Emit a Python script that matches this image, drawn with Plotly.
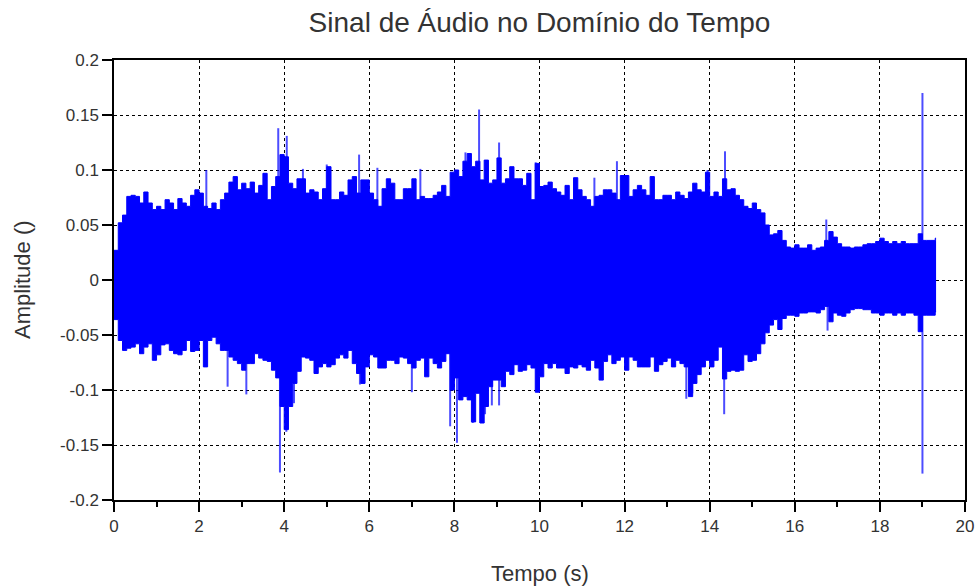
import plotly.graph_objects as go

# ---- data (envelope per 0.1 s bin, plus isolated peaks) ----
bin_start = 0.0
bin_step = 0.1

upper_env = [
    0.027, 0.052, 0.059, 0.076, 0.077, 0.076, 0.070, 0.080, 0.070, 0.064,
    0.067, 0.064, 0.073, 0.070, 0.064, 0.074, 0.070, 0.067, 0.077, 0.082,
    0.079, 0.067, 0.065, 0.070, 0.064, 0.073, 0.079, 0.089, 0.094, 0.082,
    0.088, 0.083, 0.089, 0.079, 0.086, 0.097, 0.073, 0.085, 0.094, 0.114,
    0.112, 0.088, 0.083, 0.092, 0.092, 0.079, 0.082, 0.080, 0.073, 0.083,
    0.103, 0.073, 0.073, 0.080, 0.077, 0.091, 0.094, 0.079, 0.091, 0.091,
    0.079, 0.073, 0.067, 0.083, 0.092, 0.088, 0.073, 0.073, 0.083, 0.083,
    0.092, 0.073, 0.076, 0.074, 0.074, 0.077, 0.080, 0.086, 0.076, 0.098,
    0.100, 0.094, 0.108, 0.115, 0.103, 0.108, 0.091, 0.109, 0.088, 0.091,
    0.111, 0.088, 0.092, 0.103, 0.092, 0.092, 0.086, 0.097, 0.073, 0.106,
    0.085, 0.086, 0.089, 0.083, 0.080, 0.077, 0.086, 0.073, 0.093, 0.082,
    0.076, 0.073, 0.067, 0.076, 0.077, 0.082, 0.082, 0.079, 0.073, 0.095,
    0.095, 0.076, 0.082, 0.086, 0.082, 0.077, 0.094, 0.073, 0.073, 0.077,
    0.077, 0.073, 0.080, 0.077, 0.074, 0.080, 0.088, 0.082, 0.080, 0.098,
    0.076, 0.080, 0.076, 0.092, 0.082, 0.083, 0.077, 0.073, 0.067, 0.065,
    0.070, 0.064, 0.061, 0.050, 0.041, 0.042, 0.045, 0.036, 0.030, 0.029,
    0.032, 0.029, 0.029, 0.032, 0.027, 0.029, 0.030, 0.036, 0.044, 0.039,
    0.033, 0.030, 0.030, 0.029, 0.030, 0.030, 0.032, 0.033, 0.033, 0.035,
    0.038, 0.035, 0.033, 0.035, 0.033, 0.035, 0.033, 0.033, 0.033, 0.042,
    0.036, 0.036, 0.036, 0.038,
]

lower_env = [
    -0.036, -0.055, -0.064, -0.062, -0.061, -0.058, -0.067, -0.061, -0.058, -0.073,
    -0.068, -0.059, -0.058, -0.064, -0.067, -0.068, -0.064, -0.055, -0.065, -0.064,
    -0.055, -0.079, -0.055, -0.052, -0.058, -0.064, -0.064, -0.070, -0.073, -0.076,
    -0.082, -0.076, -0.076, -0.067, -0.071, -0.073, -0.074, -0.082, -0.089, -0.115,
    -0.136, -0.115, -0.094, -0.083, -0.070, -0.071, -0.073, -0.085, -0.079, -0.076,
    -0.079, -0.077, -0.071, -0.068, -0.071, -0.064, -0.076, -0.085, -0.094, -0.079,
    -0.068, -0.070, -0.080, -0.080, -0.073, -0.073, -0.076, -0.070, -0.071, -0.076,
    -0.080, -0.073, -0.071, -0.088, -0.071, -0.076, -0.080, -0.074, -0.067, -0.100,
    -0.089, -0.109, -0.106, -0.109, -0.129, -0.103, -0.130, -0.115, -0.097, -0.091,
    -0.091, -0.097, -0.083, -0.086, -0.077, -0.083, -0.082, -0.077, -0.080, -0.102,
    -0.088, -0.076, -0.080, -0.076, -0.080, -0.080, -0.085, -0.079, -0.080, -0.077,
    -0.079, -0.082, -0.073, -0.080, -0.091, -0.074, -0.068, -0.076, -0.073, -0.070,
    -0.082, -0.070, -0.073, -0.079, -0.079, -0.079, -0.070, -0.083, -0.077, -0.074,
    -0.071, -0.079, -0.073, -0.076, -0.079, -0.106, -0.094, -0.086, -0.079, -0.073,
    -0.079, -0.073, -0.061, -0.090, -0.083, -0.082, -0.083, -0.082, -0.068, -0.074,
    -0.073, -0.067, -0.058, -0.048, -0.041, -0.036, -0.045, -0.035, -0.032, -0.032,
    -0.033, -0.030, -0.030, -0.029, -0.029, -0.030, -0.027, -0.024, -0.038, -0.030,
    -0.032, -0.033, -0.030, -0.027, -0.026, -0.026, -0.027, -0.027, -0.030, -0.030,
    -0.032, -0.030, -0.030, -0.032, -0.030, -0.032, -0.030, -0.030, -0.032, -0.047,
    -0.032, -0.032, -0.032, -0.029,
]

peak_up_t = [2.17, 3.86, 4.06, 4.44, 5.0, 5.76, 6.19, 7.2, 8.26, 8.58, 9.05, 9.91,
             11.29, 11.82, 13.95, 14.36, 16.74, 19.0]
peak_up_v = [0.100, 0.138, 0.131, 0.101, 0.105, 0.114, 0.102, 0.101, 0.116, 0.155, 0.125, 0.107,
             0.093, 0.108, 0.100, 0.117, 0.055, 0.170]
peak_dn_t = [2.67, 3.11, 3.90, 4.05, 4.23, 5.78, 7.0, 7.9, 8.06, 8.43, 8.61, 8.72, 8.88,
             9.05, 9.95, 13.45, 13.59, 14.34, 16.77, 19.0]
peak_dn_v = [-0.097, -0.104, -0.175, -0.138, -0.112, -0.095, -0.102, -0.133, -0.148, -0.130,
             -0.130, -0.122, -0.114, -0.114, -0.102, -0.108, -0.103, -0.122, -0.046, -0.176]

x_tickvals = [0, 2, 4, 6, 8, 10, 12, 14, 16, 18, 20]
x_ticktext = ["0", "2", "4", "6", "8", "10", "12", "14", "16", "18", "20"]
y_tickvals = [0.2, 0.15, 0.1, 0.05, 0, -0.05, -0.1, -0.15, -0.2]
y_ticktext = ["0.2", "0.15", "0.1", "0.05", "0", "-0.05", "-0.1", "-0.15", "-0.2"]

title_text = "Sinal de Áudio no Domínio do Tempo"
x_label = "Tempo (s)"
y_label = "Amplitude ()"

# ---- build ----
times = [round(bin_start + i * bin_step, 3) for i in range(len(upper_env))]
times_ext = times + [times[-1] + 0.02]
up_ext = upper_env + [upper_env[-1]]
lo_ext = lower_env + [lower_env[-1]]

BLUE = "#0000ff"
FONT = "Liberation Sans, Arial, sans-serif"
TXT = "#333333"

W, H = 977, 587
ML, MR, MT, MB = 114, 12, 60, 87
PW, PH = W - ML - MR, H - MT - MB

fig = go.Figure()
fig.add_trace(go.Scatter(x=times_ext, y=lo_ext, mode="lines", line=dict(color=BLUE, width=1, shape="hv"),
                         hoverinfo="skip", showlegend=False))
fig.add_trace(go.Scatter(x=times_ext, y=up_ext, mode="lines", line=dict(color=BLUE, width=1, shape="hv"),
                         fill="tonexty", fillcolor=BLUE, hoverinfo="skip", showlegend=False))

px, py = [], []
for t, v in zip(peak_up_t + peak_dn_t, peak_up_v + peak_dn_v):
    px += [t, t, None]
    py += [0, v, None]
fig.add_trace(go.Scatter(x=px, y=py, mode="lines", line=dict(color="rgba(0,0,255,0.7)", width=2),
                         hoverinfo="skip", showlegend=False))

fig.update_layout(
    width=W, height=H,
    margin=dict(l=ML, r=MR, t=MT, b=MB, autoexpand=False),
    paper_bgcolor="white", plot_bgcolor="white",
    font=dict(family=FONT, color=TXT, size=17),
    title=dict(text=title_text, x=0.5, xref="paper", y=1 - 22 / H, yref="container",
               xanchor="center", yanchor="middle", font=dict(size=28, color=TXT, family=FONT)),
    annotations=[
        dict(text=x_label, xref="paper", yref="paper", x=0.5, y=-(573 - (MT + PH)) / PH,
             xanchor="center", yanchor="middle", showarrow=False, font=dict(size=22, color=TXT)),
        dict(text=y_label, xref="paper", yref="paper", x=(22 - ML) / PW, y=0.5, textangle=-90,
             xanchor="center", yanchor="middle", showarrow=False, font=dict(size=22, color=TXT)),
    ],
)
fig.update_xaxes(
    range=[0, 20], tickvals=x_tickvals, ticktext=x_ticktext, automargin=False,
    showgrid=True, gridcolor="#000000", griddash="dot", gridwidth=1,
    showline=True, linecolor="#000000", linewidth=1.5, mirror=True,
    ticks="outside", ticklen=10, tickwidth=1.5, tickcolor="#000000",
    minor=dict(dtick=1, ticks="outside", ticklen=5, tickwidth=1.5, tickcolor="#000000", showgrid=False),
    zeroline=False,
    tickfont=dict(size=17, color=TXT),
)
fig.update_yaxes(
    range=[-0.2, 0.2], tickvals=y_tickvals, ticktext=y_ticktext, automargin=False,
    showgrid=True, gridcolor="#000000", griddash="dot", gridwidth=1,
    showline=True, linecolor="#000000", linewidth=1.5, mirror=True,
    ticks="outside", ticklen=10, tickwidth=1.5, tickcolor="#000000",
    zeroline=False,
    tickfont=dict(size=17, color=TXT),
)

fig.write_html("out.html", config={"displayModeBar": False},
               post_script="document.body.style.margin='0';document.body.style.overflow='hidden';")
